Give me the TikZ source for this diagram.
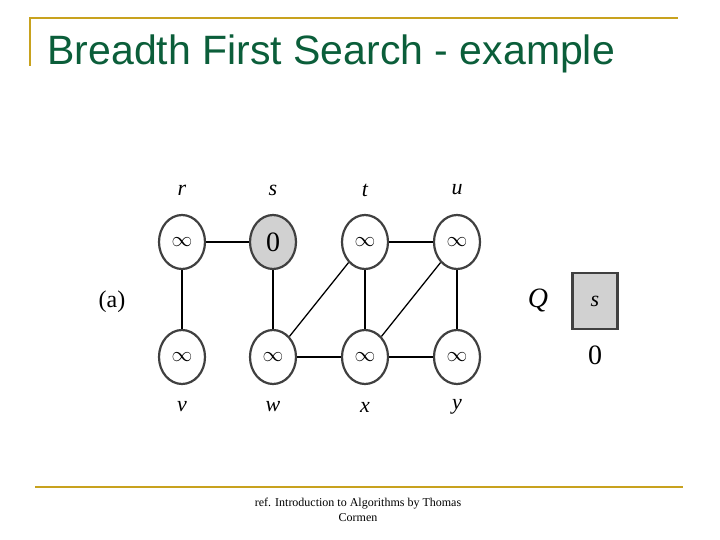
\documentclass[tikz,border=0pt]{standalone}
\usepackage{fontspec}
\setsansfont{Liberation Sans}
\setmainfont{Liberation Serif}
\usetikzlibrary{shapes.geometric}
\definecolor{titlegreen}{HTML}{0B5E3A}
\definecolor{rulegold}{HTML}{C8A21E}
\tikzset{
  vert/.style={ellipse,draw=black!75,line width=2.2pt,minimum width=46pt,minimum height=54pt,inner sep=0pt,font=\fontsize{22}{24}\selectfont},
  lbl/.style={font=\fontsize{22}{24}\selectfont\itshape},
  edge/.style={line width=2.2pt},
  thin edge/.style={line width=1.3pt}
}
\begin{document}
\begin{tikzpicture}[x=1pt,y=-1pt]
\useasboundingbox (0,0) rectangle (720,540);
\draw[rulegold,line width=2pt] (30,66)--(30,18)--(678,18);
\draw[rulegold,line width=2pt] (35,487)--(683,487);
\node[anchor=base west,text=titlegreen,font=\sffamily\fontsize{41}{46}\selectfont] (title) at (44,65) {Breadth First Search - example};
% vertices
\node[vert] (r) at (182,242) {$\infty$};
\node[vert,fill=black!18] (s) at (273,242) {\fontsize{28}{30}\selectfont 0};
\node[vert] (t) at (365,242) {$\infty$};
\node[vert] (u) at (457,242) {$\infty$};
\node[vert] (v) at (182,357) {$\infty$};
\node[vert] (w) at (273,357) {$\infty$};
\node[vert] (x) at (365,357) {$\infty$};
\node[vert] (y) at (457,357) {$\infty$};
\foreach \n in {r,s,t,u}
  \node[lbl] (\n-l) at ([yshift=52]\n) {\n};
\foreach \n in {v,w,x,y}
  \node[lbl] (\n-l) at ([yshift=-50]\n) {\n};
% edges
\draw[edge] (r)--(s) (t)--(u) (r)--(v) (s)--(w) (t)--(x) (u)--(y) (w)--(x) (x)--(y);
\draw[thin edge] (t)--(w) (u)--(x);
\node[font=\fontsize{24}{26}\selectfont] (a) at (112,302) {(a)};
\node[font=\fontsize{28}{30}\selectfont\itshape] (Q) at (538,300) {Q};
\node[draw=black!75,line width=2.2pt,fill=black!18,minimum width=45pt,minimum height=56pt,lbl] (qs) at (595,301) {s};
\node[font=\fontsize{28}{30}\selectfont] (q0) at (595,355) {0};
\node[align=center,font=\fontsize{12}{15}\selectfont] (ref) at (358,510) {ref. Introduction to Algorithms by Thomas\\Cormen};
\end{tikzpicture}
\end{document}
